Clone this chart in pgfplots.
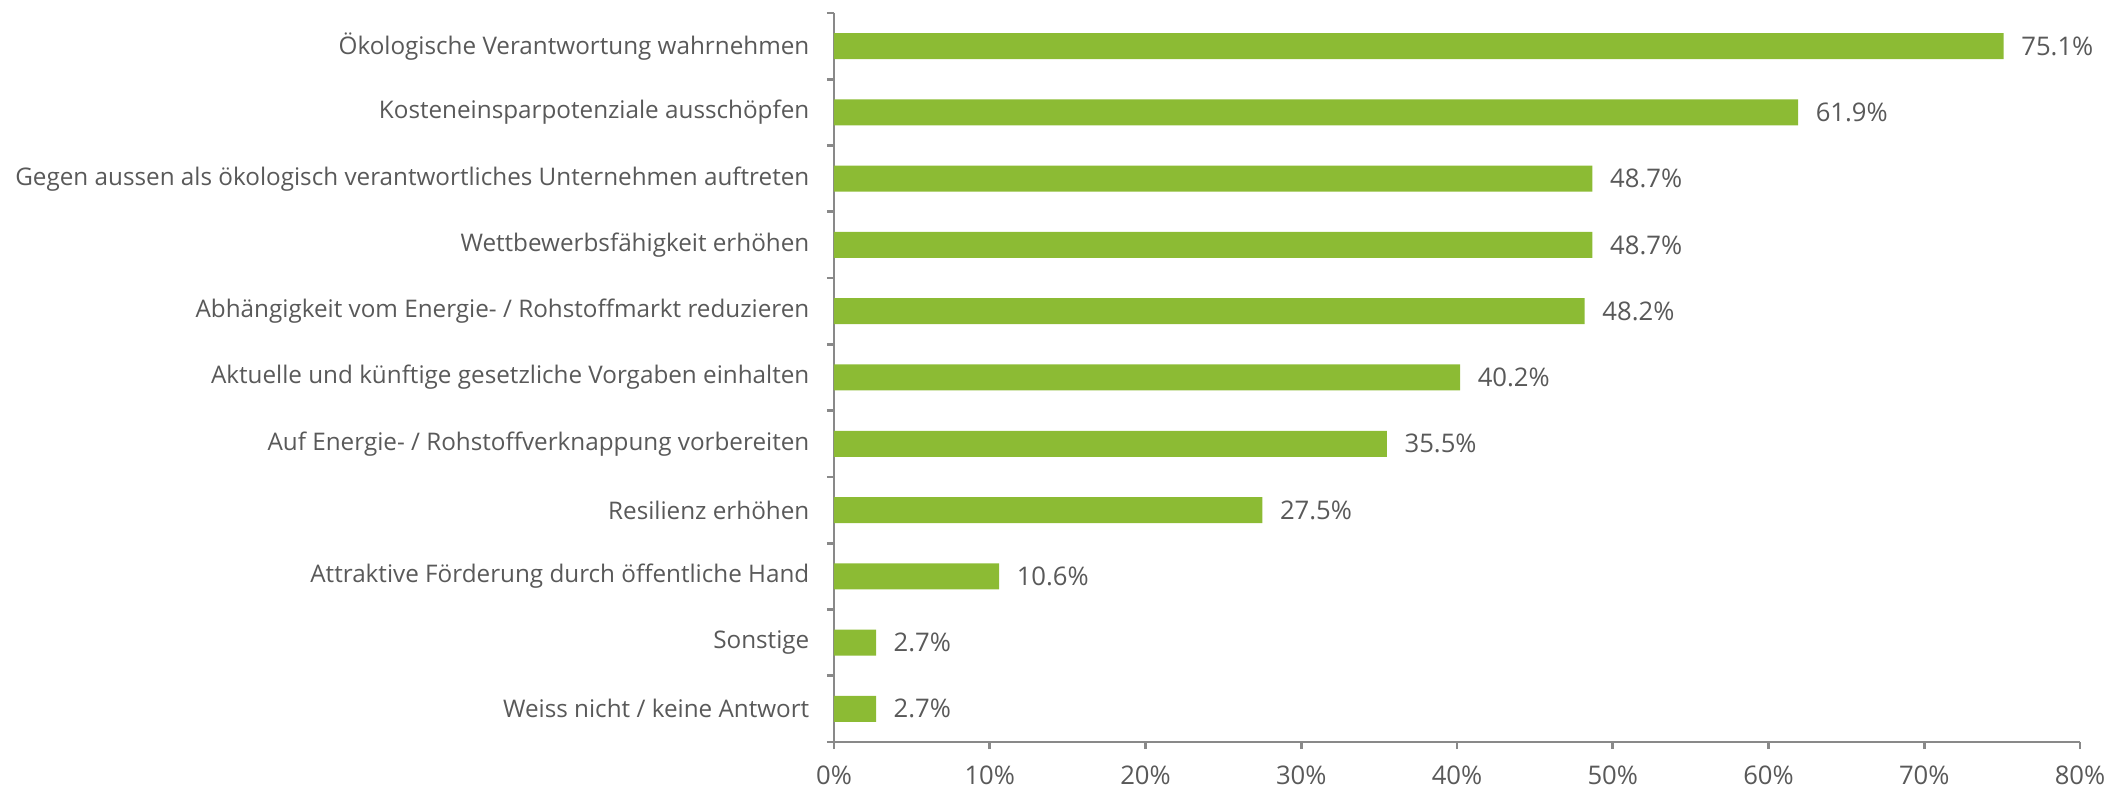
\documentclass[border=0pt]{standalone}
\usepackage{pgfplots}
\pgfplotsset{compat=1.18}
\usepackage{fontspec}
\setmainfont{Open Sans}
\definecolor{barg}{HTML}{8CBB34}
\definecolor{txt}{HTML}{595959}
\definecolor{axc}{HTML}{898989}
\begin{document}
\begin{tikzpicture}
\path[use as bounding box] (-83.4mm,-4.4mm) rectangle (127.6mm,74.2mm);
\begin{axis}[
  at={(0,0)}, anchor=south west,
  scale only axis,
  width=124.6mm, height=72.9mm,
  xbar, bar width=2.6mm,
  y dir=reverse,
  xmin=0, xmax=80, ymin=-0.5, ymax=10.5,
  axis lines*=left,
  axis line style={draw=axc, line width=0.8pt},
  tick align=outside,
  major tick length=0.7mm, minor tick length=0.7mm,
  every tick/.style={draw=axc, line width=0.8pt},
  every major y tick/.style={draw=none},
  ytick={0,...,10},
  minor ytick={-0.5,0.5,...,10.5},
  yticklabels={Ökologische Verantwortung wahrnehmen,
    Kosteneinsparpotenziale ausschöpfen,
    Gegen aussen als ökologisch verantwortliches Unternehmen auftreten,
    Wettbewerbsfähigkeit erhöhen,
    Abhängigkeit vom Energie- / Rohstoffmarkt reduzieren,
    Aktuelle und künftige gesetzliche Vorgaben einhalten,
    Auf Energie- / Rohstoffverknappung vorbereiten,
    Resilienz erhöhen,
    Attraktive Förderung durch öffentliche Hand,
    Sonstige,
    Weiss nicht / keine Antwort},
  xtick={0,10,...,80},
  xticklabel={\pgfmathprintnumber{\tick}\%},
  /pgf/number format/assume math mode=true,
  ticklabel style={text=txt},
  yticklabel style={inner sep=0pt, xshift=-1.7mm, font=\fontsize{6.9}{8}\selectfont},
  xticklabel style={inner sep=0pt, yshift=-1.6mm, font=\fontsize{7.3}{8}\selectfont},
  point meta=explicit symbolic,
  nodes near coords={\pgfplotspointmeta\%},
  nodes near coords align={horizontal},
  every node near coord/.append style={anchor=west, inner sep=0pt, xshift=1.7mm, font=\fontsize{7.3}{8}\selectfont, text=txt},
]
\addplot[fill=barg, draw=none] coordinates {
(75.1,0) [75.1]
(61.9,1) [61.9]
(48.7,2) [48.7]
(48.7,3) [48.7]
(48.2,4) [48.2]
(40.2,5) [40.2]
(35.5,6) [35.5]
(27.5,7) [27.5]
(10.6,8) [10.6]
(2.7,9) [2.7]
(2.7,10) [2.7]
};
\end{axis}
\end{tikzpicture}
\end{document}
